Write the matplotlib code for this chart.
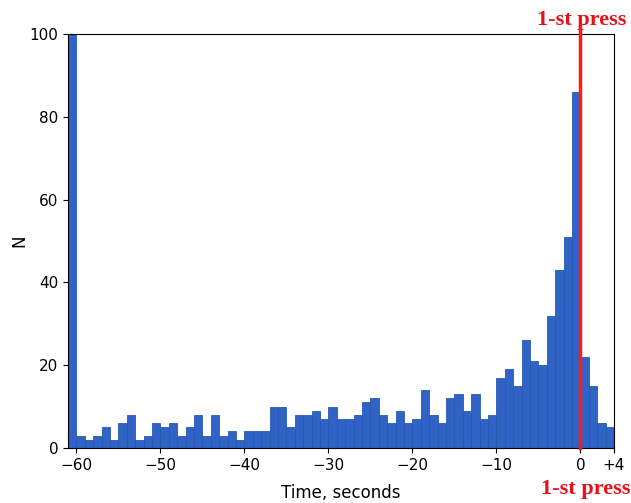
import matplotlib
matplotlib.use("Agg")
import matplotlib.pyplot as plt
import numpy as np

# Bin left edges (seconds) and counts, 1-second bins from -61 to +4
bin_lefts = list(range(-61, 4))
counts = [100,
          3, 2, 3, 5, 2, 6, 8, 2, 3, 6,
          5, 6, 3, 5, 8, 3, 8, 3, 4, 2,
          4, 4, 4, 10, 10, 5, 8, 8, 9, 7,
          10, 7, 7, 8, 11, 12, 8, 6, 9, 6,
          7, 14, 8, 6, 12, 13, 9, 13, 7, 8,
          17, 19, 15, 26, 21, 20, 32, 43, 51, 86,
          22, 15, 6, 5]
xticks = [-60, -50, -40, -30, -20, -10, 0, 4]
xticklabels = ["\u221260", "\u221250", "\u221240", "\u221230", "\u221220", "\u221210", "0", "+4"]
yticks = [0, 20, 40, 60, 80, 100]
marker_label = "1-st press"

fig = plt.figure(figsize=(6.31, 5.03), dpi=100)
ax = fig.add_axes([0.1078, 0.1093, 0.8652, 0.8231])

ax.bar(bin_lefts, counts, width=1.0, align="edge", color="#2f63c6",
       edgecolor="#2a59b3", linewidth=0.6)

ax.set_xlim(-61, 4)
ax.set_ylim(0, 100)
ax.set_xticks(xticks)
ax.set_xticklabels(xticklabels)
ax.set_yticks(yticks)
ax.tick_params(labelsize=11)
ax.set_xlabel("Time, seconds", fontsize=12, labelpad=8)
ax.set_ylabel("N", fontsize=12, labelpad=1)

# red marker line at first press
ax.plot([0, 0], [0, 101.6], color="#ff1a1a", linewidth=2.5, clip_on=False, zorder=5)
ax.text(0.1, 102.2, marker_label, color="#e8101a", fontsize=16, fontweight="bold",
        family="Liberation Serif", ha="center", va="baseline", clip_on=False)
ax.text(0.6, -11.1, marker_label, color="#e8101a", fontsize=16, fontweight="bold",
        family="Liberation Serif", ha="center", va="baseline", clip_on=False)

fig.savefig("out.png", dpi=100)
